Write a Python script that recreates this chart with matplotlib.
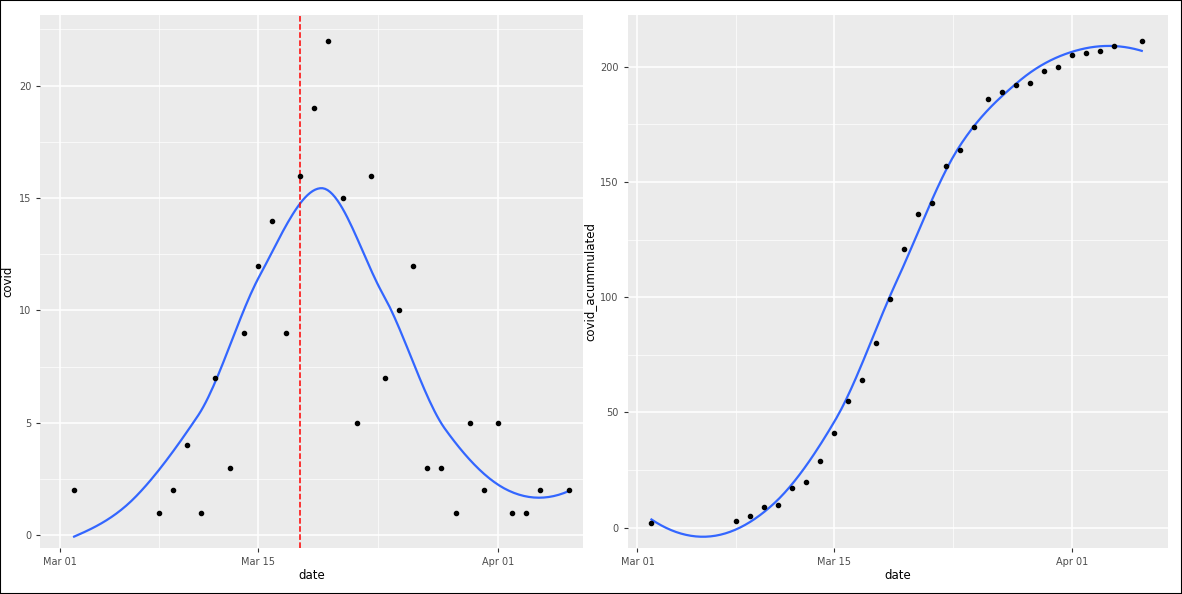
import numpy as np
import matplotlib
matplotlib.use("Agg")
import matplotlib.pyplot as plt
import matplotlib.dates as mdates

dates = ["2020-03-02","2020-03-08","2020-03-09","2020-03-10","2020-03-11","2020-03-12","2020-03-13",
         "2020-03-14","2020-03-15","2020-03-16","2020-03-17","2020-03-18","2020-03-19","2020-03-20",
         "2020-03-21","2020-03-22","2020-03-23","2020-03-24","2020-03-25","2020-03-26","2020-03-27",
         "2020-03-28","2020-03-29","2020-03-30","2020-03-31","2020-04-01","2020-04-02","2020-04-03",
         "2020-04-04","2020-04-06"]
covid = [2,1,2,4,1,7,3,9,12,14,9,16,19,22,15,5,16,7,10,12,3,3,1,5,2,5,1,1,2,2]
covid_acumulated = [2,3,5,9,10,17,20,29,41,55,64,80,99,121,136,141,157,164,174,186,189,192,193,
                    198,200,205,206,207,209,211]
peak_date = "2020-03-18"

x = mdates.datestr2num(dates)

def loess_fit(xs, ys, x0, span=0.75):
    n = len(xs); q = int(np.floor(n * span))
    d = np.abs(xs - x0)
    h = np.sort(d)[q - 1]
    w = np.clip(1 - (d / h) ** 3, 0, None) ** 3
    X = np.vstack([np.ones(n), xs - x0, (xs - x0) ** 2]).T
    A = X.T @ (w[:, None] * X)
    b = X.T @ (w * ys)
    beta = np.linalg.solve(A, b)
    return beta[0], beta[1]

def loess(xs, ys, xg, nv=9):
    xs = np.asarray(xs, float); ys = np.asarray(ys, float)
    v = np.linspace(xs.min(), xs.max(), nv)
    fv = np.array([loess_fit(xs, ys, t) for t in v])
    out = []
    for t in xg:
        i = min(np.searchsorted(v, t, side="right") - 1, nv - 2)
        i = max(i, 0)
        hh = v[i + 1] - v[i]; s = (t - v[i]) / hh
        h00 = 2*s**3 - 3*s**2 + 1; h10 = s**3 - 2*s**2 + s
        h01 = -2*s**3 + 3*s**2; h11 = s**3 - s**2
        out.append(h00*fv[i,0] + h10*hh*fv[i,1] + h01*fv[i+1,0] + h11*hh*fv[i+1,1])
    return np.array(out)

xg = np.linspace(x.min(), x.max(), 200)

fig = plt.figure(figsize=(11.82, 5.94), dpi=100)
fig.patches.append(plt.Rectangle((0, 0), 1, 1, transform=fig.transFigure, fill=False,
                                 edgecolor="black", linewidth=1.5))

def style(ax, ylabel, majors_y, minors_y, xl):
    ax.set_facecolor("#EBEBEB")
    for s in ax.spines.values():
        s.set_visible(False)
    base = mdates.datestr2num("2020-03-01")
    ax.set_xlim(base + xl[0], base + xl[1])
    maj = mdates.datestr2num(["2020-03-01", "2020-03-15", "2020-04-01"])
    mino = mdates.datestr2num(["2020-03-08", "2020-03-23 12:00"])
    ax.set_xticks(maj)
    ax.set_xticklabels(["Mar 01", "Mar 15", "Apr 01"])
    ax.set_xticks(mino, minor=True)
    ax.set_yticks(majors_y)
    ax.set_yticks(minors_y, minor=True)
    ax.grid(which="major", color="white", linewidth=1.1)
    ax.grid(which="minor", color="white", linewidth=0.5)
    ax.set_axisbelow(True)
    ax.tick_params(which="major", length=3, color="#333333", labelsize=7, labelcolor="#4D4D4D")
    ax.tick_params(which="minor", length=0)
    ax.set_xlabel("date", fontsize=8.5, labelpad=2)
    ax.set_ylabel(ylabel, fontsize=8.5, labelpad=3)

ax1 = fig.add_axes([0.034, 0.078, 0.459, 0.897])
ax1.plot(xg, loess(x, covid, xg), color="#3366FF", linewidth=1.6, zorder=2)
ax1.scatter(x, covid, s=9, color="black", zorder=3)
ax1.axvline(mdates.datestr2num(peak_date), color="red", linestyle="--", linewidth=1.1)
ax1.set_ylim(-0.55, 23.15)
style(ax1, "covid", [0, 5, 10, 15, 20], [2.5, 7.5, 12.5, 17.5, 22.5], (-1.4, 37.0))

ax2 = fig.add_axes([0.531, 0.078, 0.457, 0.897])
ax2.plot(xg, loess(x, covid_acumulated, xg), color="#3366FF", linewidth=1.6, zorder=2)
ax2.scatter(x, covid_acumulated, s=9, color="black", zorder=3)
ax2.set_ylim(-8.7, 222.5)
style(ax2, "covid_acummulated", [0, 50, 100, 150, 200], [25, 75, 125, 175], (-0.7, 37.86))

fig.savefig("out.png", dpi=100)
